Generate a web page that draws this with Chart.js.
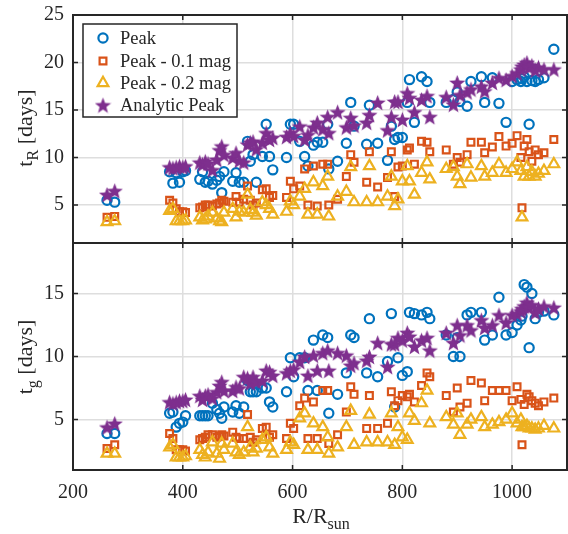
<!DOCTYPE html>
<html>
<head>
<meta charset="utf-8">
<title>tR and tg versus R</title>
<script src="https://cdn.jsdelivr.net/npm/chart.js@4.4.0/dist/chart.umd.min.js"></script>
<style>
  html, body { margin: 0; padding: 0; background: #fff; }
  #wrap { position: relative; width: 568px; height: 534px; }
  #bot { position: absolute; left: 0; top: 236px; }
  #top { position: absolute; left: 0; top: 0; }
</style>
</head>
<body>
<div id="wrap">
  <canvas id="bot" width="568" height="298"></canvas>
  <canvas id="top" width="568" height="250"></canvas>
</div>
<script>
// model radii (R / R_sun), one entry per model
var radius = [262,276,376,382,388,394,400,405,431,436,441,446,454,462,467,471,475,491,497,503,511,518,523,528,534,
  545,552,558,564,589,596,602,613,622,628,638,645,655,664,666,682,698,706,712,735,740,755,
  773,780,786,792,800,809,813,822,835,845,850,880,893,900,905,918,925,944,950,964,
  976,989,1000,1009,1016,1018,1022,1027,1031,1036,1042,1048,1058,1076];

// top panel: t_R [days]
var tRPeak = [5.5,5.3,8.5,7.3,8.4,7.4,8.5,8.6,7.7,8.5,7.4,7.5,7.2,7.6,8.0,6.3,8.5,7.5,8.4,7.4,7.4,11.7,9.6,10.3,7.4,
  10.1,13.5,10.1,8.7,10.0,13.5,13.5,11.7,10.1,9.1,11.3,11.6,11.6,13.5,8.8,9.6,11.5,15.8,13.3,11.4,15.5,11.5,
  9.7,13.3,11.9,12.1,12.1,15.8,18.2,13.7,18.5,18.0,15.8,15.8,16.1,16.9,15.9,15.4,18.0,18.5,15.8,18.4,
  15.7,13.7,18.0,18.2,18.0,18.3,18.5,18.0,13.5,18.1,18.0,18.2,18.4,21.4];
var tRPeak01 = [3.7,3.8,5.5,5.2,4.6,4.3,4.3,4.2,4.7,4.8,5.0,5.0,4.9,5.1,5.2,5.5,5.4,5.3,5.9,5.3,5.6,7.0,5.5,5.0,5.2,
  6.6,6.7,5.8,6.0,5.8,7.5,6.7,7.0,8.8,5.0,9.1,4.9,9.3,9.3,5.0,5.6,8.0,10.3,9.5,7.4,10.6,6.9,
  7.9,10.6,5.9,9.0,9.1,10.8,11.0,9.3,11.7,11.6,10.6,10.8,9.3,10.0,9.5,10.3,11.6,11.6,10.5,11.1,
  12.2,11.2,11.5,12.3,10.0,4.7,11.2,11.9,10.6,9.6,10.8,10.3,10.5,11.9];
var tRPeak02 = [3.2,3.3,4.4,4.6,3.3,3.3,3.3,3.4,3.7,3.4,3.5,3.8,4.2,3.6,3.3,3.2,4.2,4.6,3.7,4.3,4.2,6.1,4.5,4.2,3.9,
  5.3,5.0,4.6,4.0,4.3,5.4,5.0,5.9,6.7,4.0,7.4,4.0,7.0,8.0,3.8,5.9,6.4,9.0,5.3,5.3,9.1,5.3,
  5.9,8.0,4.9,5.6,7.5,9.1,7.5,6.1,8.4,9.5,7.7,8.8,9.0,8.0,7.2,9.3,7.9,9.1,8.0,8.4,
  9.3,8.4,8.8,9.5,8.6,3.7,8.0,9.0,8.0,8.5,8.0,8.3,8.6,9.3];
var tRAnalytic = [6.1,6.5,9.0,8.9,9.0,9.1,9.0,9.1,9.5,9.3,9.6,9.4,8.7,9.8,10.8,11.2,10.3,10.0,10.5,9.7,9.5,11.4,11.6,11.7,10.9,
  11.6,12.6,11.9,12.1,12.2,12.6,12.3,13.3,11.9,12.4,13.2,13.7,13.0,14.3,12.6,14.8,13.2,14.2,13.4,13.7,14.5,15.8,
  12.9,14.3,15.9,15.9,14.0,16.8,16.3,14.8,16.1,16.5,14.3,16.4,15.6,17.9,16.6,16.9,17.2,17.5,17.0,17.9,
  18.4,18.2,18.6,18.9,19.3,19.6,19.8,20.0,19.5,19.7,19.2,19.5,19.3,19.3];

// bottom panel: t_g [days]
var tgPeak = [3.9,3.9,5.5,5.6,4.4,4.7,4.8,5.3,5.3,5.3,5.3,5.3,6.3,5.8,5.5,5.1,6.0,5.6,6.1,5.5,6.0,8.1,7.2,7.2,7.2,
  7.5,7.5,6.4,6.0,7.2,9.9,8.4,9.9,9.9,7.3,11.3,7.3,11.7,11.5,5.5,7.0,8.7,11.7,11.5,8.7,13.0,8.4,
  9.6,13.4,6.0,9.9,8.5,8.8,13.5,13.4,13.3,13.5,13.0,11.7,10.0,11.5,10.0,13.3,13.5,13.5,11.3,11.7,
  14.7,11.7,11.9,12.5,12.9,13.2,15.7,15.5,10.7,15.0,13.0,13.5,13.6,13.3];
var tgPeak01 = [2.7,3.0,3.9,3.5,2.6,2.6,2.6,2.5,3.4,3.5,3.6,3.8,3.8,3.6,3.7,3.8,3.7,4.0,3.6,3.5,3.5,5.4,3.6,3.2,3.4,
  4.3,4.4,3.6,3.8,3.5,4.7,4.3,6.1,6.7,3.5,6.4,3.5,7.3,7.3,3.1,3.8,5.6,7.6,7.0,4.3,6.9,4.3,
  4.7,7.2,6.1,6.5,6.9,6.8,7.0,6.4,7.7,8.7,8.4,6.9,5.6,7.5,6.0,6.3,8.1,7.9,6.5,7.3,
  7.3,7.3,6.5,7.6,6.6,3.0,6.2,7.0,6.8,6.5,6.3,6.1,6.4,6.7];
var tgPeak02 = [2.3,2.3,2.8,3.0,2.0,2.0,2.0,2.1,2.6,2.2,2.0,2.4,3.2,2.3,1.9,3.1,2.6,3.1,2.4,2.2,2.4,4.4,2.8,2.4,2.7,
  3.4,3.6,2.8,2.3,2.6,3.2,3.0,5.1,5.5,2.6,4.7,2.6,4.4,3.6,2.3,2.8,4.4,5.7,3.0,3.2,5.4,3.2,
  3.2,5.5,3.0,4.4,3.6,3.4,5.5,4.9,6.3,7.3,4.7,5.2,4.6,5.5,3.8,4.6,5.0,5.2,4.4,4.6,
  4.8,5.0,5.5,4.7,5.0,4.4,4.4,4.5,4.3,4.3,4.2,4.3,4.5,4.3];
var tgAnalytic = [4.4,4.7,6.4,6.3,6.4,6.5,6.5,6.6,6.9,6.6,6.9,7.0,6.7,7.2,7.7,8.0,7.3,7.3,7.6,7.5,8.4,8.3,7.9,8.4,8.0,
  8.1,8.9,8.8,8.5,8.7,8.9,9.0,9.6,10.0,8.5,10.1,8.9,10.3,10.5,8.9,10.3,10.1,9.3,9.5,9.7,10.0,11.1,
  9.2,11.0,11.0,11.5,11.3,11.9,11.6,10.8,11.3,11.5,10.5,11.9,11.1,12.5,11.7,12.5,12.1,12.9,12.3,12.5,
  13.3,12.7,13.3,13.4,13.6,13.8,14.0,14.3,13.9,14.1,13.5,13.8,14.0,13.9];

var seriesLabels = ['Peak', 'Peak - 0.1 mag', 'Peak - 0.2 mag', 'Analytic Peak'];
var xTicks = [200, 400, 600, 800, 1000];
var yTicksTop = [5, 10, 15, 20, 25];
var yTicksBot = [5, 10, 15];

var colors = ['#0072BD', '#D95319', '#EDB120', '#7E2F8E'];
var ink = '#262626';
var serif = '"Liberation Serif", "Times New Roman", serif';

Chart.defaults.font.family = serif;
Chart.defaults.font.size = 20;
Chart.defaults.color = ink;

function makeStar(color, size) {
  var c = document.createElement('canvas');
  c.width = size; c.height = size;
  var g = c.getContext('2d');
  var ro = size / 2, ri = ro * 0.42;
  g.beginPath();
  for (var i = 0; i < 10; i++) {
    var r = i % 2 ? ri : ro;
    var a = -Math.PI / 2 + i * Math.PI / 5;
    g.lineTo(ro + r * Math.cos(a), ro + 1 + r * Math.sin(a));
  }
  g.closePath();
  g.fillStyle = color;
  g.fill();
  return c;
}
var star = makeStar(colors[3], 17);

var styles = [
  { pointStyle: 'circle', pointRadius: 4.6, pointBorderWidth: 2.2 },
  { pointStyle: 'rect', pointRadius: 4.8, pointBorderWidth: 2.2 },
  { pointStyle: 'triangle', pointRadius: 6.2, pointBorderWidth: 2.2 },
  { pointStyle: star, pointRadius: 8, pointBorderWidth: 0 }
];

function pts(vals) {
  return radius.map(function (r, i) { return { x: r, y: vals[i] }; });
}

function makeDatasets(arrs) {
  return arrs.map(function (vals, k) {
    var s = styles[k];
    return {
      label: seriesLabels[k],
      data: pts(vals),
      pointStyle: s.pointStyle,
      pointRadius: s.pointRadius,
      pointBorderWidth: s.pointBorderWidth,
      borderColor: colors[k],
      backgroundColor: 'rgba(0,0,0,0)',
      showLine: false,
      order: 4 - k
    };
  });
}

// marker for the legend box
function marker(ctx, k, x, y) {
  var s = styles[k];
  ctx.save();
  ctx.strokeStyle = colors[k];
  ctx.lineWidth = 2.2;
  ctx.beginPath();
  if (k === 0) {
    ctx.arc(x, y, s.pointRadius, 0, Math.PI * 2);
    ctx.stroke();
  } else if (k === 1) {
    var h = s.pointRadius * Math.SQRT1_2;
    ctx.rect(x - h, y - h, 2 * h, 2 * h);
    ctx.stroke();
  } else if (k === 2) {
    var r = s.pointRadius;
    ctx.moveTo(x, y - r);
    ctx.lineTo(x + r * 0.866, y + r / 2);
    ctx.lineTo(x - r * 0.866, y + r / 2);
    ctx.closePath();
    ctx.stroke();
  } else {
    ctx.drawImage(star, x - star.width / 2, y - star.height / 2);
  }
  ctx.restore();
}

// text with a subscript part: parts = [[text, isSub], ...], centred on x, baseline y
function subText(ctx, parts, x, y) {
  var big = '22px ' + serif, small = '16px ' + serif;
  var w = 0;
  parts.forEach(function (p) { ctx.font = p[1] ? small : big; w += ctx.measureText(p[0]).width; });
  var cx = x - w / 2;
  ctx.textAlign = 'left';
  ctx.textBaseline = 'alphabetic';
  parts.forEach(function (p) {
    ctx.font = p[1] ? small : big;
    ctx.fillText(p[0], cx, y + (p[1] ? 6 : 0));
    cx += ctx.measureText(p[0]).width;
  });
}

function framePlugin(yTicks, yTitle, yTitleMid, xTitle, legend) {
  return {
    id: 'frame',
    afterDraw: function (chart) {
      var ctx = chart.ctx, a = chart.chartArea;
      var xs = chart.scales.x, ys = chart.scales.y;
      ctx.save();
      ctx.strokeStyle = ink;
      ctx.lineWidth = 1.5;
      ctx.beginPath();
      xTicks.forEach(function (v) {
        var p = xs.getPixelForValue(v);
        ctx.moveTo(p, a.bottom); ctx.lineTo(p, a.bottom - 5);
        ctx.moveTo(p, a.top); ctx.lineTo(p, a.top + 5);
      });
      yTicks.forEach(function (v) {
        var p = ys.getPixelForValue(v);
        ctx.moveTo(a.left, p); ctx.lineTo(a.left + 5, p);
        ctx.moveTo(a.right, p); ctx.lineTo(a.right - 5, p);
      });
      ctx.stroke();
      ctx.lineWidth = 2;
      ctx.strokeRect(a.left, a.top, a.right - a.left, a.bottom - a.top);

      ctx.fillStyle = ink;
      ctx.save();
      ctx.translate(32, yTitleMid);
      ctx.rotate(-Math.PI / 2);
      subText(ctx, yTitle, 0, 0);
      ctx.restore();

      if (xTitle) subText(ctx, xTitle, 321, 287);

      if (legend) {
        ctx.fillStyle = '#fff';
        ctx.fillRect(83, 24, 154, 93);
        ctx.lineWidth = 1.5;
        ctx.strokeStyle = ink;
        ctx.strokeRect(83, 24, 154, 93);
        ctx.font = '18.5px ' + serif;
        ctx.textAlign = 'left';
        ctx.textBaseline = 'middle';
        ctx.fillStyle = ink;
        var rows = [38, 61, 83, 105];
        seriesLabels.forEach(function (lab, k) {
          marker(ctx, k, 103, rows[k]);
          ctx.fillText(lab, 120, rows[k] + 1);
        });
      }
      ctx.restore();
    }
  };
}

function noPad(s) {
  s.paddingTop = 0; s.paddingBottom = 0; s.paddingLeft = 0; s.paddingRight = 0;
}

function options(yMin, yMax, yTicks, xHeight, pad, showX) {
  return {
    responsive: false,
    animation: false,
    events: [],
    layout: { padding: pad, autoPadding: false },
    plugins: { legend: { display: false }, tooltip: { enabled: false } },
    scales: {
      x: {
        type: 'linear', min: 200, max: 1100,
        afterBuildTicks: function (s) { s.ticks = xTicks.map(function (v) { return { value: v }; }); },
        afterFit: function (s) { s.height = xHeight; noPad(s); },
        grid: { color: '#dedede', lineWidth: 1.5, drawTicks: false },
        border: { display: false },
        ticks: { display: showX, padding: 11, color: ink, font: { size: 20 },
          callback: function (v) { return String(v); } }
      },
      y: {
        type: 'linear', min: yMin, max: yMax,
        afterBuildTicks: function (s) { s.ticks = yTicks.map(function (v) { return { value: v }; }); },
        afterFit: function (s) { s.width = 73; noPad(s); },
        grid: { color: '#dedede', lineWidth: 1.5, drawTicks: false },
        border: { display: false },
        ticks: { padding: 9, color: ink, font: { size: 20 },
          callback: function (v) { return String(v); } }
      }
    }
  };
}

new Chart(document.getElementById('top'), {
  type: 'scatter',
  data: { datasets: makeDatasets([tRPeak, tRPeak01, tRPeak02, tRAnalytic]) },
  options: options(1, 25, yTicksTop, 7, { left: 0, right: 1, top: 15, bottom: 0 }, false),
  plugins: [framePlugin(yTicksTop, [['t', false], ['R', true], [' [days]', false]], 128, null, true)]
});

new Chart(document.getElementById('bot'), {
  type: 'scatter',
  data: { datasets: makeDatasets([tgPeak, tgPeak01, tgPeak02, tgAnalytic]) },
  options: options(1, 19, yTicksBot, 64, { left: 0, right: 1, top: 7, bottom: 0 }, true),
  plugins: [framePlugin(yTicksBot, [['t', false], ['g', true], [' [days]', false]], 121,
    [['R/R', false], ['sun', true]], false)]
});
</script>
</body>
</html>
